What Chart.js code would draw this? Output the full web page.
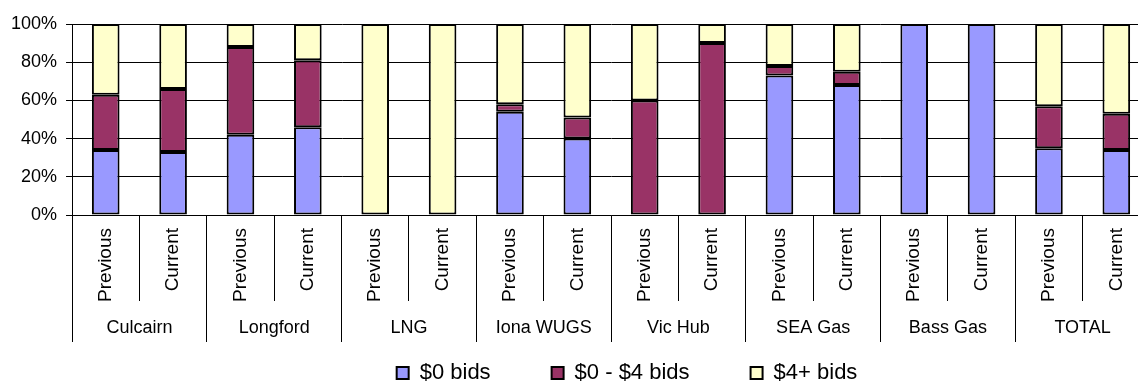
<!DOCTYPE html>
<html lang="en">
<head>
    <meta charset="UTF-8">
    <title>Bids by zone</title>
    <style>
        html, body {
            margin: 0;
            padding: 0;
            background: #fff;
            overflow: hidden;
        }

        /* plot runs slightly past the right edge of the window, as in the original */
        .container {
            width: 1152px;
            height: 383px;
        }
    </style>
</head>
<body>
    <div class="container">
        <canvas id="myChart"></canvas>
    </div>
    <script src="https://cdn.jsdelivr.net/npm/chart.js"></script>
    <script>
        const groups = ['Culcairn', 'Longford', 'LNG', 'Iona WUGS', 'Vic Hub', 'SEA Gas', 'Bass Gas', 'TOTAL'];
        const periods = ['Previous', 'Current'];
        const categories = groups.flatMap(() => periods);

        // share of bids (%) per bar, Previous/Current for each group
        const zeroBids = [34, 33, 42, 46, 0, 0, 54, 40, 0, 0, 73, 68, 100, 100, 35, 34];
        const lowBids  = [29, 33, 46, 35, 0, 0, 4, 11, 60, 90, 5, 7, 0, 0, 22, 19];
        const highBids = [37, 34, 12, 19, 100, 100, 42, 49, 40, 10, 22, 25, 0, 0, 43, 47];

        const yTicks = [0, 20, 40, 60, 80, 100];

        Chart.defaults.font.family = "Arial, 'Liberation Sans', sans-serif";
        Chart.defaults.color = '#000';

        const barStyle = {
            borderColor: '#000',
            borderWidth: 2,
            borderSkipped: false,
            barPercentage: 0.41,
            categoryPercentage: 1
        };

        // legend items sit low in a box with big label padding; trim the box
        // height and nudge it to the right like the original
        const legendTweak = {
            id: 'legendTweak',
            beforeInit(chart) {
                const fit = chart.legend.fit;
                chart.legend.fit = function () {
                    fit.call(this);
                    this.height = 82;
                };
            },
            afterLayout(chart) {
                chart.legend.left += 16;
                chart.legend.right += 16;
            }
        };

        const data = {
            labels: categories,
            datasets: [
                { label: '$0 bids', data: zeroBids, backgroundColor: '#9999FF', ...barStyle },
                { label: '$0 - $4 bids', data: lowBids, backgroundColor: '#993366', ...barStyle },
                { label: '$4+ bids', data: highBids, backgroundColor: '#FFFFCC', ...barStyle }
            ]
        };

        const config = {
            type: 'bar',
            data: data,
            plugins: [legendTweak],
            options: {
                responsive: true,
                maintainAspectRatio: false,
                animation: false,
                layout: {
                    padding: { top: 24, left: 2, right: 2, bottom: 0 }
                },
                plugins: {
                    tooltip: { enabled: false },
                    legend: {
                        position: 'bottom',
                        fullSize: false,
                        labels: {
                            boxWidth: 12,
                            boxHeight: 12,
                            padding: 61,
                            color: '#000',
                            font: { size: 22 }
                        }
                    }
                },
                scales: {
                    x: {
                        stacked: true,
                        offset: true,
                        weight: 0,
                        grid: { offset: true, drawOnChartArea: false, tickLength: 86, color: '#000' },
                        border: { color: '#000' },
                        ticks: { autoSkip: false, minRotation: 90, maxRotation: 90, padding: -73, font: { size: 19 } },
                        afterFit: s => { s.height = 86; }
                    },
                    // second row of the category axis: group names
                    g: {
                        type: 'category',
                        labels: groups,
                        position: 'bottom',
                        offset: true,
                        weight: 1,
                        grid: { offset: true, drawOnChartArea: false, tickLength: 41, color: '#000' },
                        border: { display: false },
                        ticks: { autoSkip: false, maxRotation: 0, mirror: true, padding: -38, font: { size: 18 } },
                        afterFit: s => { s.height = 0; }
                    },
                    y: {
                        stacked: true,
                        min: 0,
                        max: 100,
                        grid: { color: '#000', tickLength: 6 },
                        border: { color: '#000' },
                        afterBuildTicks: s => { s.ticks = yTicks.map(v => ({ value: v })); },
                        ticks: {
                            padding: 9,
                            font: { size: 18 },
                            callback: v => v + '%'
                        }
                    }
                }
            }
        };

        const myChart = new Chart(document.getElementById('myChart'), config);
    </script>
</body>
</html>
